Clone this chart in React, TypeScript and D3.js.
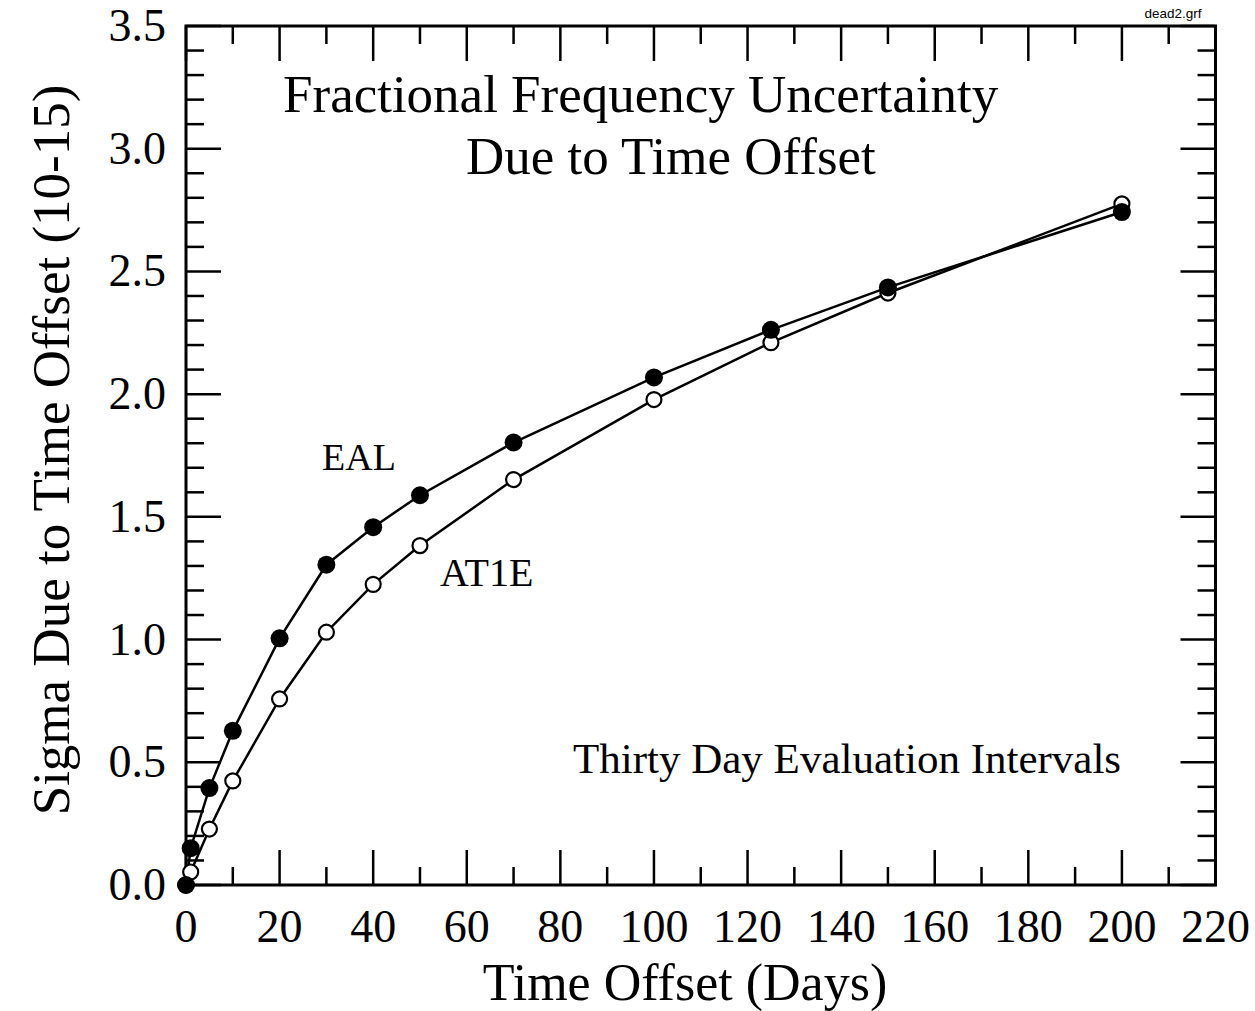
import React, { useRef, useEffect } from "react";
import * as d3 from "d3";

const days = [0, 1, 5, 10, 20, 30, 40, 50, 70, 100, 125, 150, 200];
const ealValues = [0.0, 0.15, 0.395, 0.628, 1.005, 1.305, 1.458, 1.588, 1.803, 2.068, 2.262, 2.435, 2.742];
const at1eValues = [0.0, 0.053, 0.228, 0.424, 0.758, 1.03, 1.225, 1.383, 1.652, 1.978, 2.21, 2.412, 2.775];
const xTickLabels = [0, 20, 40, 60, 80, 100, 120, 140, 160, 180, 200, 220];
const yTickLabels = [0.0, 0.5, 1.0, 1.5, 2.0, 2.5, 3.0, 3.5];

const W = 1255, H = 1011;
const L = 186, R = 1215.5, T = 26, B = 885;
const FONT = "'Liberation Serif', 'Times New Roman', serif";

export default function App() {
  const ref = useRef<SVGSVGElement>(null);
  useEffect(() => {
    const svg = d3.select(ref.current);
    svg.selectAll("*").remove();
    const x = d3.scaleLinear().domain([0, 220]).range([L, R]);
    const y = d3.scaleLinear().domain([0, 3.5]).range([B, T]);

    // ticks
    const g = svg.append("g").attr("stroke", "#000").attr("stroke-width", 2.5);
    const xMinor = d3.range(0, 221, 10);
    xMinor.forEach((v) => {
      const major = v % 20 === 0;
      const len = major ? 35 : 18;
      g.append("line").attr("x1", x(v)).attr("x2", x(v)).attr("y1", B).attr("y2", B - len);
      g.append("line").attr("x1", x(v)).attr("x2", x(v)).attr("y1", T).attr("y2", T + len);
    });
    const yMinor = d3.range(0, 36).map((i) => i / 10);
    yMinor.forEach((v, i) => {
      const major = i % 5 === 0;
      const len = major ? 35 : 18;
      g.append("line").attr("x1", L).attr("x2", L + len).attr("y1", y(v)).attr("y2", y(v));
      g.append("line").attr("x1", R).attr("x2", R - len).attr("y1", y(v)).attr("y2", y(v));
    });
    // frame
    svg.append("rect").attr("x", L).attr("y", T).attr("width", R - L).attr("height", B - T)
      .attr("fill", "none").attr("stroke", "#000").attr("stroke-width", 3);

    // tick labels
    svg.append("g").selectAll("text").data(xTickLabels).join("text")
      .attr("x", (d) => x(d)).attr("y", 942).attr("text-anchor", "middle")
      .attr("font-family", FONT).attr("font-size", 46).text((d) => String(d));
    svg.append("g").selectAll("text").data(yTickLabels).join("text")
      .attr("x", 166).attr("y", (d) => y(d) + 15).attr("text-anchor", "end")
      .attr("font-family", FONT).attr("font-size", 46).text((d) => d.toFixed(1));

    // lines
    const line = d3.line<number>().x((_, i) => x(days[i])).y((d) => y(d));
    svg.append("path").attr("d", line(at1eValues)).attr("fill", "none").attr("stroke", "#000").attr("stroke-width", 2.5);
    svg.append("path").attr("d", line(ealValues)).attr("fill", "none").attr("stroke", "#000").attr("stroke-width", 2.5);

    svg.append("g").selectAll("circle").data(at1eValues).join("circle")
      .attr("cx", (_, i) => x(days[i])).attr("cy", (d) => y(d)).attr("r", 7.5)
      .attr("fill", "#fff").attr("stroke", "#000").attr("stroke-width", 2.2);
    svg.append("g").selectAll("circle").data(ealValues).join("circle")
      .attr("cx", (_, i) => x(days[i])).attr("cy", (d) => y(d)).attr("r", 9)
      .attr("fill", "#000");

    const txt = (s: string, tx: number, ty: number, size: number, anchor = "start") =>
      svg.append("text").attr("x", tx).attr("y", ty).attr("font-family", FONT)
        .attr("font-size", size).attr("text-anchor", anchor).text(s);

    txt("Fractional Frequency Uncertainty", 283, 112, 53);
    txt("Due to Time Offset", 466, 174, 53);
    txt("EAL", 322, 470, 38);
    txt("AT1E", 440, 586, 40);
    txt("Thirty Day Evaluation Intervals", 573, 773, 43);
    txt("Time Offset (Days)", 685, 1000, 52, "middle");
    svg.append("text").attr("transform", "translate(69,450) rotate(-90)")
      .attr("font-family", FONT).attr("font-size", 53).attr("text-anchor", "middle")
      .text("Sigma Due to Time Offset (10-15)");
    svg.append("text").attr("x", 1173).attr("y", 18).attr("text-anchor", "middle")
      .attr("font-family", "'Liberation Sans', Arial, sans-serif").attr("font-size", 13.5)
      .text("dead2.grf");
  }, []);
  return (
    <svg ref={ref} width={W} height={H} style={{ position: "absolute", left: 0, top: 0, background: "#fff" }} />
  );
}
